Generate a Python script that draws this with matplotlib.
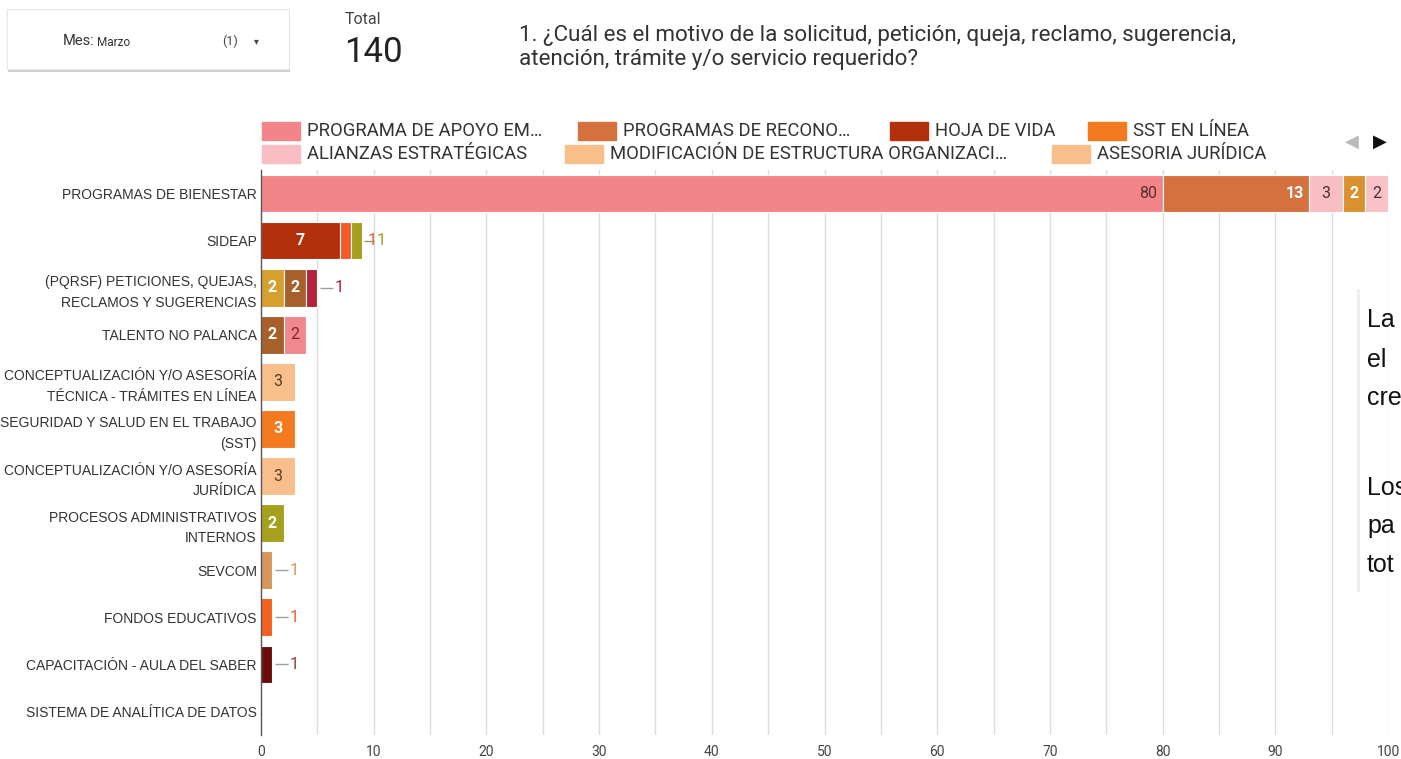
import matplotlib
matplotlib.use("Agg")
import matplotlib.pyplot as plt
from matplotlib.patches import FancyBboxPatch, Rectangle
from matplotlib import font_manager as fm

W, H = 1401, 759

categories = [
    "PROGRAMAS DE BIENESTAR",
    "SIDEAP",
    "(PQRSF) PETICIONES, QUEJAS,\nRECLAMOS Y SUGERENCIAS",
    "TALENTO NO PALANCA",
    "CONCEPTUALIZACIÓN Y/O ASESORÍA\nTÉCNICA - TRÁMITES EN LÍNEA",
    "SEGURIDAD Y SALUD EN EL TRABAJO\n(SST)",
    "CONCEPTUALIZACIÓN Y/O ASESORÍA\nJURÍDICA",
    "PROCESOS ADMINISTRATIVOS\nINTERNOS",
    "SEVCOM",
    "FONDOS EDUCATIVOS",
    "CAPACITACIÓN - AULA DEL SABER",
    "SISTEMA DE ANALÍTICA DE DATOS",
]

# series values per category (same order as categories)
apoyo_em      = [80, 0, 0, 0, 0, 0, 0, 0, 0, 0, 0, 0]
reconocimiento = [13, 0, 0, 0, 0, 0, 0, 0, 0, 0, 0, 0]
hoja_de_vida  = [0, 7, 0, 0, 0, 0, 0, 0, 0, 0, 0, 0]
sst_en_linea  = [0, 0, 0, 0, 0, 3, 0, 0, 0, 0, 0, 0]
alianzas      = [3, 0, 0, 0, 0, 0, 0, 0, 0, 0, 0, 0]
modificacion  = [0, 0, 0, 0, 3, 0, 0, 0, 0, 0, 0, 0]
asesoria_jur  = [0, 0, 0, 0, 0, 0, 3, 0, 0, 0, 0, 0]
otro_a        = [2, 0, 2, 0, 0, 0, 0, 0, 0, 0, 0, 0]
otro_b        = [2, 0, 0, 0, 0, 0, 0, 0, 0, 0, 0, 0]
otro_c        = [0, 1, 0, 0, 0, 0, 0, 0, 0, 0, 0, 0]
otro_d        = [0, 1, 0, 0, 0, 0, 0, 2, 0, 0, 0, 0]
otro_e        = [0, 0, 2, 2, 0, 0, 0, 0, 0, 0, 0, 0]
otro_f        = [0, 0, 1, 0, 0, 0, 0, 0, 0, 0, 0, 0]
otro_g        = [0, 0, 0, 2, 0, 0, 0, 0, 0, 0, 0, 0]
otro_h        = [0, 0, 0, 0, 0, 0, 0, 0, 1, 0, 0, 0]
otro_i        = [0, 0, 0, 0, 0, 0, 0, 0, 0, 1, 0, 0]
otro_j        = [0, 0, 0, 0, 0, 0, 0, 0, 0, 0, 1, 0]

series = [
    ("PROGRAMA DE APOYO EM…", apoyo_em, "#F3858A", "#5a3030"),
    ("PROGRAMAS DE RECONO…", reconocimiento, "#D4713F", "#ffffff"),
    ("HOJA DE VIDA", hoja_de_vida, "#B3300C", "#ffffff"),
    ("SST EN LÍNEA", sst_en_linea, "#F47A1F", "#ffffff"),
    ("ALIANZAS ESTRATÉGICAS", alianzas, "#F8BEC4", "#4a3030"),
    ("MODIFICACIÓN DE ESTRUCTURA ORGANIZACI…", modificacion, "#F8BF8A", "#5a3a20"),
    ("ASESORIA JURÍDICA", asesoria_jur, "#F8BF8C", "#5a3a20"),
    ("Otro A", otro_a, "#D9922E", "#ffffff"),
    ("Otro B", otro_b, "#F8C2C6", "#4a3030"),
    ("Otro C", otro_c, "#F25A28", "#E06040"),
    ("Otro D", otro_d, "#A5A01E", "#ffffff"),
    ("Otro E", otro_e, "#A8602A", "#ffffff"),
    ("Otro F", otro_f, "#B2223A", "#B2223A"),
    ("Otro G", otro_g, "#F08890", "#8a2030"),
    ("Otro H", otro_h, "#D8955C", "#D8955C"),
    ("Otro I", otro_i, "#F46020", "#F46020"),
    ("Otro J", otro_j, "#6A0C0C", "#9a3a3a"),
]
pq_gold = "#D5A02E"
sideap_olive_label = "#A5A01E"

legend_count = 7
x_ticks = [0, 10, 20, 30, 40, 50, 60, 70, 80, 90, 100]
x_max = 100

avail = {f.name for f in fm.fontManager.ttflist}
narrow = "Liberation Sans Narrow" if "Liberation Sans Narrow" in avail else "Liberation Sans"
main = "Roboto"

fig = plt.figure(figsize=(W / 100, H / 100), dpi=100)
fig.patch.set_facecolor("white")

def fx(x):
    return x / W

def fy(y):
    return 1 - y / H

ax_left, ax_right, ax_top, ax_bot = 261, 1388, 170, 735
ax = fig.add_axes([fx(ax_left), fy(ax_bot), (ax_right - ax_left) / W, (ax_bot - ax_top) / H])
ax.set_xlim(0, x_max)
ax.set_ylim(len(categories) - 0.5, -0.5)

for s in ("top", "right", "bottom"):
    ax.spines[s].set_visible(False)
ax.spines["left"].set_color("#555555")
ax.spines["left"].set_linewidth(1.0)
ax.spines["left"].set_zorder(5)

for g in range(5, x_max + 1, 5):
    ax.axvline(g, color="#dddddd", lw=1.0, zorder=0)

ax.set_xticks(x_ticks)
ax.set_xticklabels([str(t) for t in x_ticks], fontfamily=main, fontsize=10, color="#444444")
ax.tick_params(axis="x", length=0, pad=7)
ax.set_yticks(range(len(categories)))
ax.set_yticklabels(categories, fontfamily=narrow, fontsize=10, color="#333333", linespacing=1.6)
ax.tick_params(axis="y", length=0, pad=3)

lefts = [0.0] * len(categories)
outside = {}
bar_h = 0.8
for idx, (name, vals, col, tcol) in enumerate(series):
    for i, v in enumerate(vals):
        if v <= 0:
            continue
        c = col
        if name == "Otro A" and i == 2:
            c = pq_gold
        ax.barh(i, v, left=lefts[i], height=bar_h, color=c, edgecolor="#ffffff",
                linewidth=0.8, zorder=2)
        end = lefts[i] + v
        if v >= 2:
            bold = "bold" if tcol == "#ffffff" else "normal"
            if v >= 10:
                ax.text(end - 0.5, i, str(v), ha="right", va="center", fontsize=11.5,
                        fontfamily=main, color=tcol, fontweight=bold, zorder=4)
            else:
                ax.text(lefts[i] + v / 2, i, str(v), ha="center", va="center",
                        fontsize=11.5, fontfamily=main, color=tcol, fontweight=bold, zorder=4)
        else:
            lc = sideap_olive_label if (name == "Otro D" and i == 1) else tcol
            outside.setdefault(i, []).append((v, lc))
        lefts[i] = end

for i, labs in outside.items():
    total = lefts[i]
    n = len(labs)
    if n == 1:
        v, lc = labs[0]
        ax.plot([total + 0.25, total + 1.4], [i, i], color="#9aa0a6", lw=1.0, zorder=3,
                solid_capstyle="butt")
        ax.text(total + 1.5, i, str(v), ha="left", va="center", fontsize=12,
                fontfamily=main, color=lc, zorder=4)
    else:
        for k, (v, lc) in enumerate(labs):
            ax.text(total + 0.45 + k * 0.85, i, str(v), ha="left", va="center", fontsize=12,
                    fontfamily=main, color=lc, zorder=4)
        ax.plot([total + 0.1, total + 1.0], [i, i], color="#9a9a60", lw=1.0, zorder=5,
                solid_capstyle="butt")

# legend
leg_pos = [(262, 131), (578, 131), (890, 131), (1088, 131),
           (262, 154), (565, 154), (1052, 154)]
for (name, vals, col, tcol), (lx, ly) in zip(series[:legend_count], leg_pos):
    fig.patches.append(Rectangle((fx(lx), fy(ly + 9)), 38 / W, 18 / H,
                                 transform=fig.transFigure, color=col))
    fig.text(fx(lx + 45), fy(ly), name, fontsize=13.3, fontfamily=main,
             color="#333333", va="center", ha="left")
fig.text(fx(1352), fy(142), "◀", fontsize=13, color="#bbbbbb", va="center", ha="center",
         fontfamily="DejaVu Sans")
fig.text(fx(1380), fy(142), "▶", fontsize=13, color="#111111", va="center", ha="center",
         fontfamily="DejaVu Sans")

# header: filter box
shadow = FancyBboxPatch((fx(8), fy(72)), 282 / W, 60 / H, boxstyle="square,pad=0",
                        transform=fig.transFigure, facecolor="#d0d0d0", edgecolor="none")
fig.patches.append(shadow)
box = FancyBboxPatch((fx(7), fy(69)), 282 / W, 60 / H, boxstyle="square,pad=0",
                     transform=fig.transFigure, facecolor="white", edgecolor="#e6e6e6", lw=0.8)
fig.patches.append(box)
fig.text(fx(63), fy(41), "Mes:", fontsize=10.5, fontfamily=main, color="#333333",
         va="center", ha="left")
fig.text(fx(97), fy(42), "Marzo", fontsize=8.5, fontfamily=main, color="#333333",
         va="center", ha="left")
fig.text(fx(222), fy(41), "(1)", fontsize=9, fontfamily=main, color="#444444",
         va="center", ha="left")
fig.text(fx(256), fy(41), "▾", fontsize=7, fontfamily="DejaVu Sans", color="#444444",
         va="center", ha="center")

fig.text(fx(345), fy(20), "Total", fontsize=11.5, fontfamily=main, color="#444444",
         va="center", ha="left")
fig.text(fx(344), fy(52), "140", fontsize=25, fontfamily=main, color="#222222",
         va="center", ha="left")

fig.text(fx(519), fy(35), "1. ¿Cuál es el motivo de la solicitud, petición, queja, reclamo, sugerencia,",
         fontsize=16.1, fontfamily=main, color="#333333", va="center", ha="left")
fig.text(fx(519), fy(60), "atención, trámite y/o servicio requerido?",
         fontsize=16.1, fontfamily=main, color="#333333", va="center", ha="left")

# cut-off side text
fig.lines.append(plt.Line2D([fx(1358), fx(1358)], [fy(290), fy(590)], transform=fig.transFigure,
                            color="#eeeeee", lw=2))
for txt, yy in [("La", 320), ("el", 360), ("cre", 398), ("Los", 488), ("pa", 526), ("tot", 565)]:
    fig.text(fx(1367), fy(yy), txt, fontsize=18, fontfamily="Liberation Sans",
             color="#111111", va="center", ha="left")

fig.savefig("out.png", dpi=100, facecolor="white")
